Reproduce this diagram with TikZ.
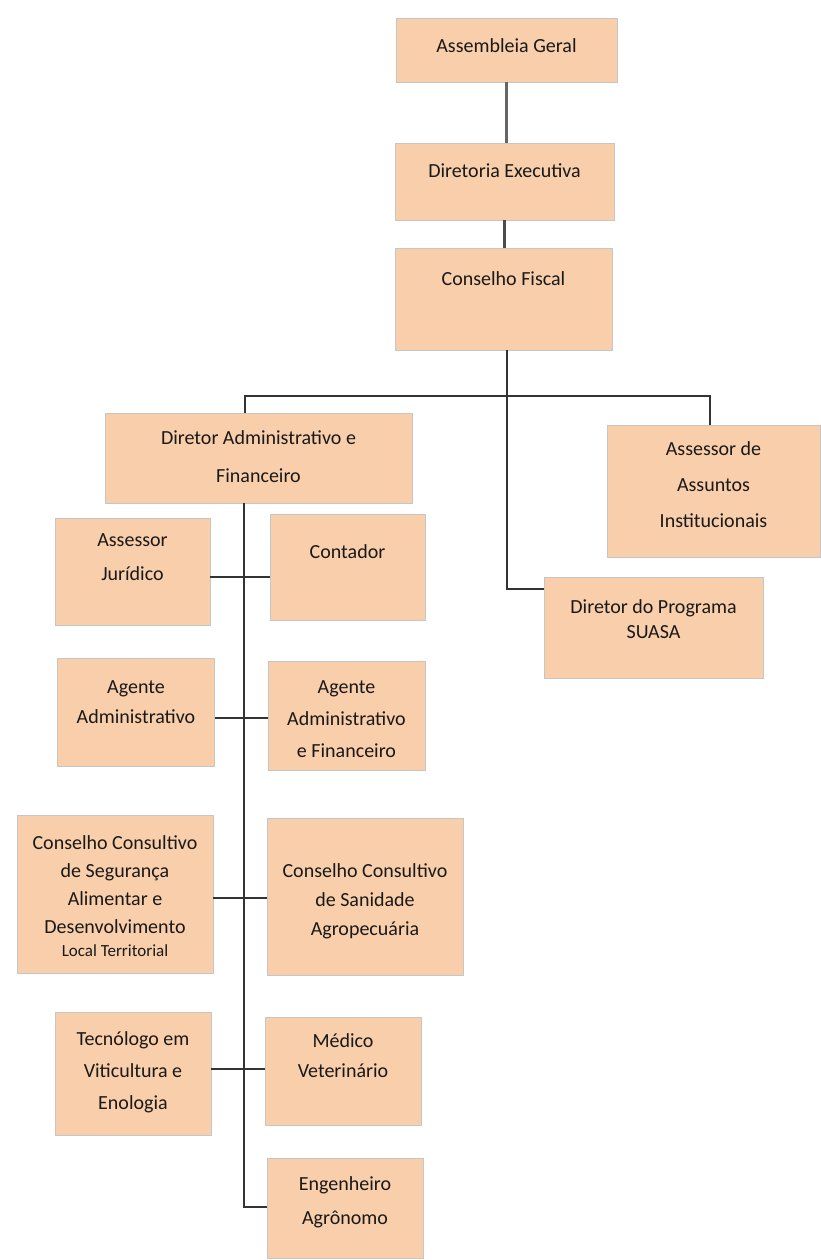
\documentclass[tikz,border=0pt]{standalone}
\usepackage{fontspec}
\setmainfont{Carlito}
\usepackage{xcolor}
\usepackage{tikz}

\definecolor{peach}{HTML}{F9CEAA}
\newcommand{\boxtext}[4]{\parbox[c][#2pt][t]{#1pt}{\centering\vspace*{\dimexpr #3pt+3pt\relax}#4\par}}

\tikzset{
  orgbox/.style={draw=gray!45, fill=peach, inner sep=0pt, text=black!90,
    font=\fontsize{20}{30}\selectfont},
  link/.style={draw=black!80, line width=1.8pt},
}

\begin{document}
\begin{tikzpicture}[x=1pt, y=-1pt]
            \useasboundingbox (0,0) rectangle (820,1260);

            % Top of the chart
            \node[orgbox] (ag) at (506.5,50) {\boxtext{221}{64}{18}{Assembleia Geral}};
            \node[orgbox] (de) at (504.5,181.5) {\boxtext{219}{77}{18}{Diretoria Executiva}};
            \node[orgbox] (cf) at (503.5,299) {\boxtext{217}{102}{21}{Conselho Fiscal}};

            % Second level
            \node[orgbox] (daf) at (258.5,458) {\boxtext{307}{90}{15}{Diretor Administrativo e\\[8pt] Financeiro}};
            \node[orgbox] (aai) at (713.5,491) {\boxtext{213}{132}{14}{Assessor de\\[6pt] Assuntos\\[6pt] Institucionais}};
            \node[orgbox] (suasa) at (653.5,627.5) {\boxtext{219}{101}{20}{Diretor do Programa\\[-5pt] SUASA}};

            % Staff under the administrative director
            \node[orgbox] (aj) at (132.5,571.5) {\boxtext{155}{107}{13}{Assessor\\[4pt] Jurídico}};
            \node[orgbox] (cont) at (347.5,567) {\boxtext{155}{106}{28}{Contador}};
            \node[orgbox] (aga) at (136,712) {\boxtext{157}{108}{20}{Agente\\ Administrativo}};
            \node[orgbox] (agaf) at (346.5,715.5) {\boxtext{157}{109}{17}{Agente\\[2pt] Administrativo\\[2pt] e Financeiro}};
            \node[orgbox] (ccseg) at (115,894) {\boxtext{196}{158}{18}{Conselho Consultivo\\[-2pt] de Segurança\\[-2pt] Alimentar e\\[-2pt] Desenvolvimento\\[-7pt] {\fontsize{17}{20}\selectfont Local Territorial}}};
            \node[orgbox] (ccsan) at (365,896.5) {\boxtext{196}{157}{43}{Conselho Consultivo\\[-1pt] de Sanidade\\[-1pt] Agropecuária}};
            \node[orgbox] (tec) at (133,1073.5) {\boxtext{156}{123}{17}{Tecnólogo em\\[2pt] Viticultura e\\[2pt] Enologia}};
            \node[orgbox] (med) at (343,1071) {\boxtext{156}{108}{14}{Médico\\ Veterinário}};
            \node[orgbox] (eng) at (345,1208) {\boxtext{156}{100}{16}{Engenheiro\\[4pt] Agrônomo}};

            % Connectors
            \coordinate (hub) at (507,396);
            \coordinate (sj) at (507,589);
            \coordinate (bl) at (245,396);
            \coordinate (br) at (710,396);
            \coordinate (tr) at (244,1207);
            \coordinate (r1) at (244,577);
            \coordinate (r2) at (244,718);
            \coordinate (r3) at (244,898);
            \coordinate (r4) at (244,1069);

            \draw[link, draw=black!60, line width=2.6pt] (ag.south) -- (ag.south |- de.north);
            \draw[link, draw=black!70, line width=2.4pt] (de.south) -- (de.south |- cf.north);
            \draw[link] (cf.south -| hub) -- (sj) -- (sj -| suasa.west);
            \draw[link] (daf.north -| bl) -- (bl) -- (br) -- (aai.north -| br);
            \draw[link] (daf.south -| tr) -- (tr) -- (tr -| eng.west);

            \draw[link] (aj.east |- r1) -- (cont.west |- r1);
            \draw[link] (aga.east |- r2) -- (agaf.west |- r2);
            \draw[link] (ccseg.east |- r3) -- (ccsan.west |- r3);
            \draw[link] (tec.east |- r4) -- (med.west |- r4);

\end{tikzpicture}
\end{document}
